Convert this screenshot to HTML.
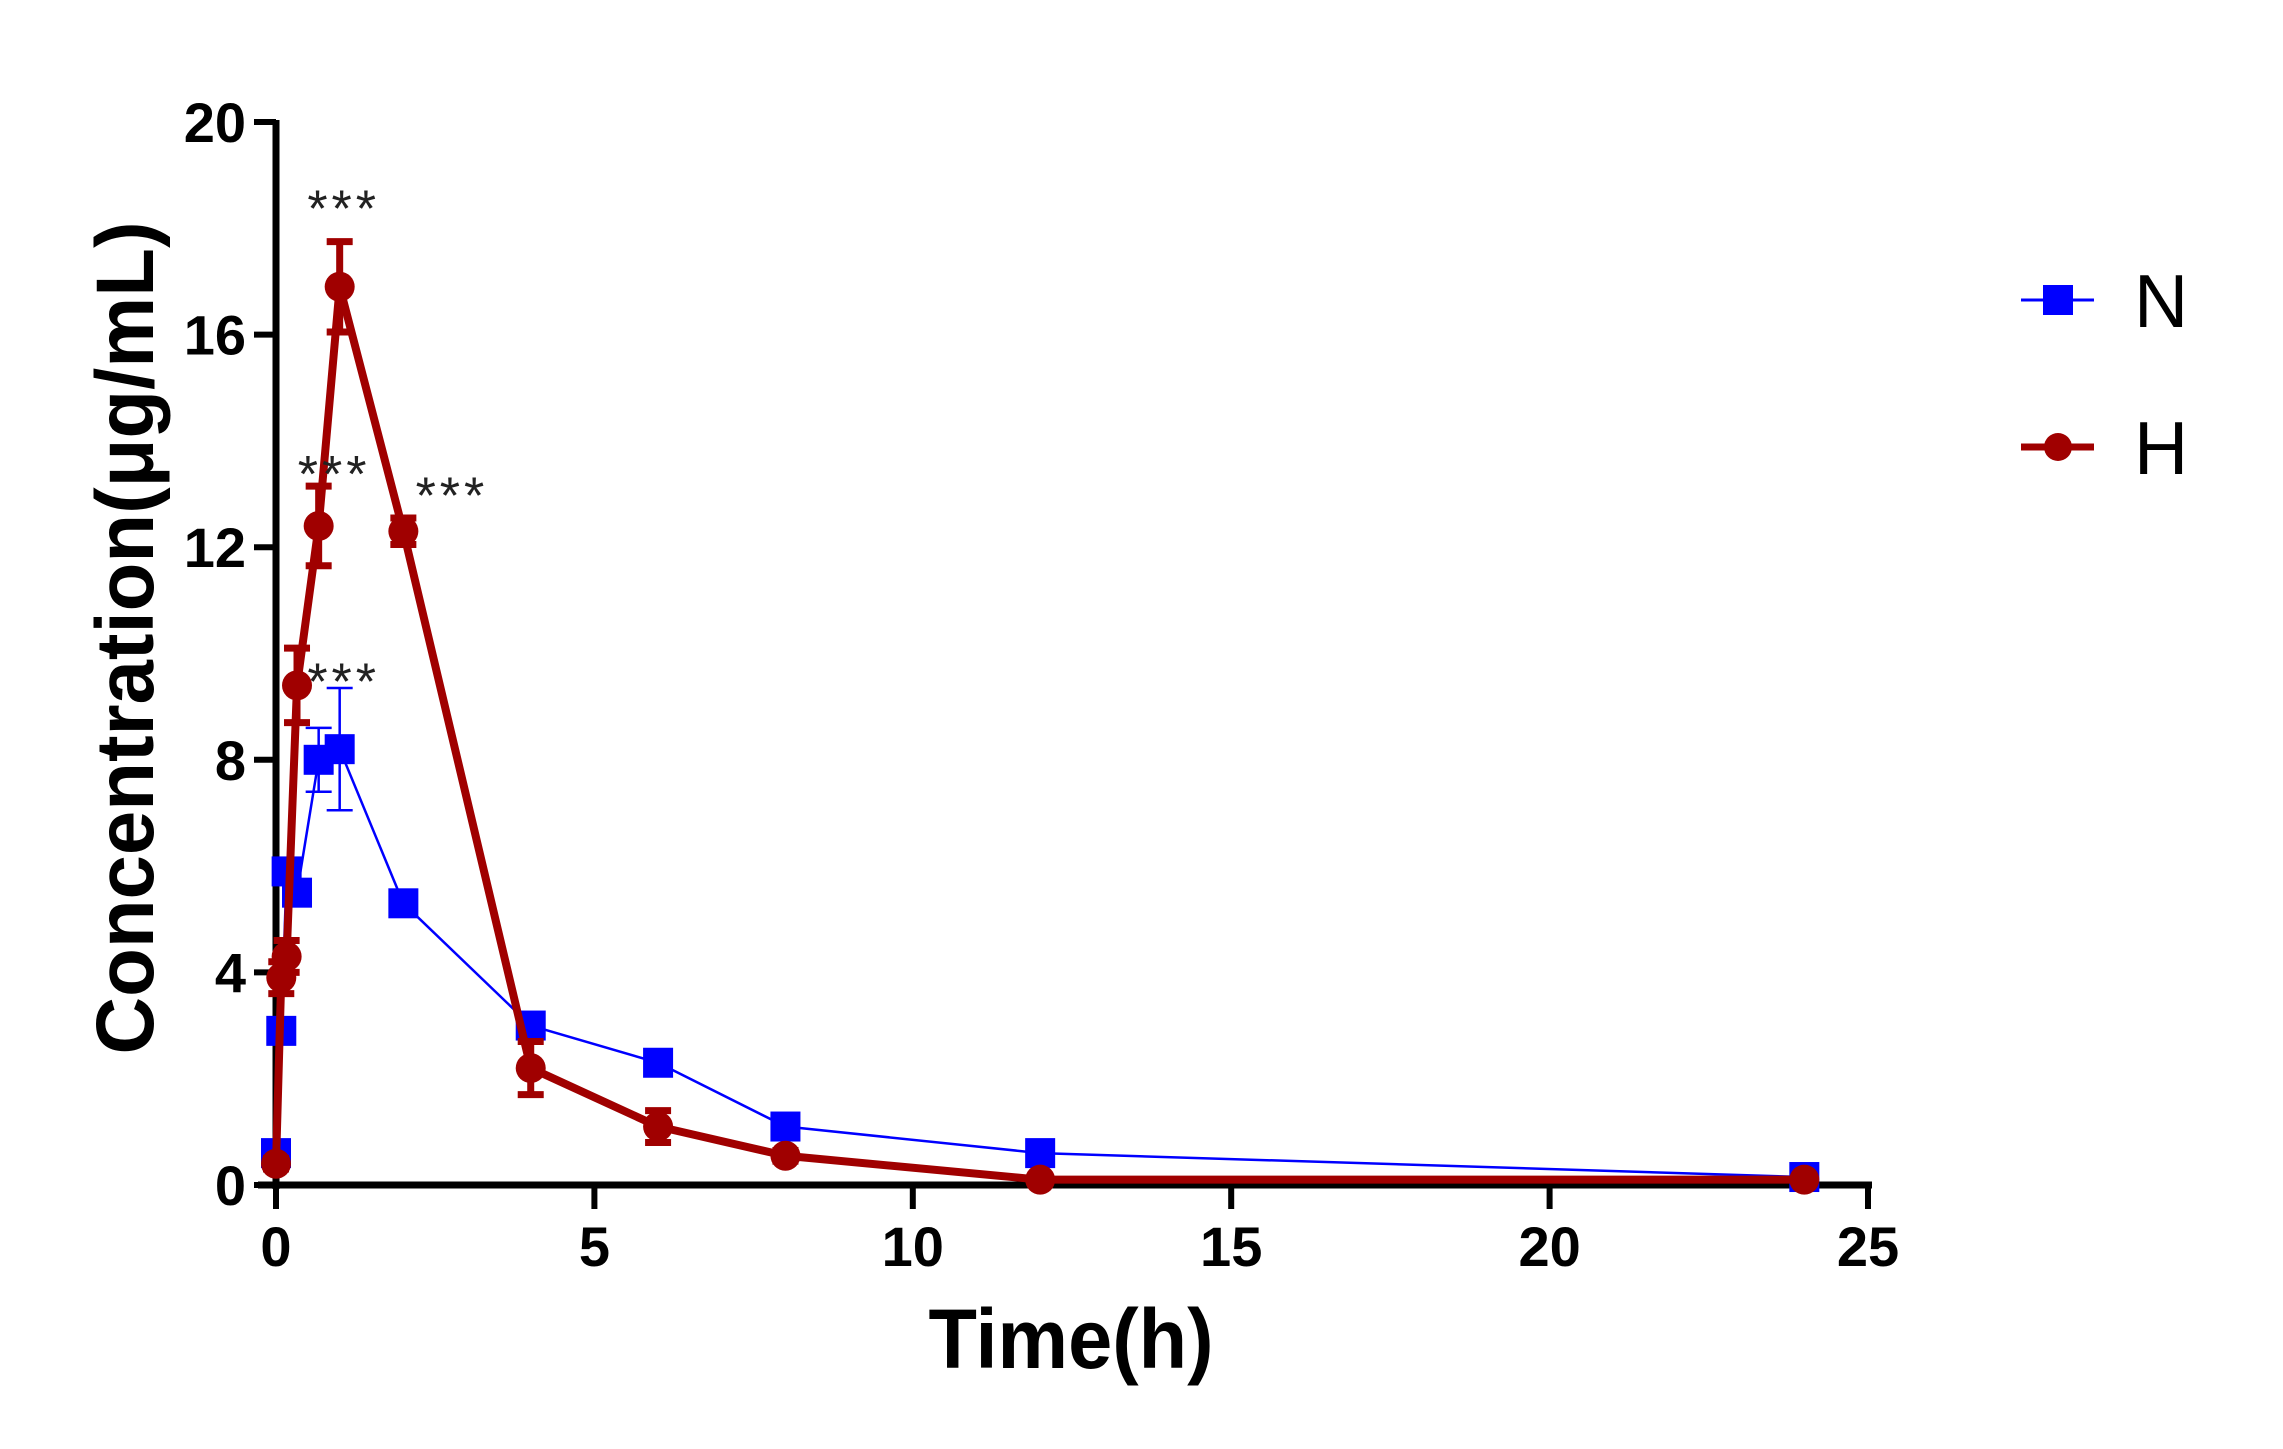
<!DOCTYPE html>
<html><head><meta charset="utf-8">
<style>html,body{margin:0;padding:0;background:#fff}svg{display:block}</style>
</head><body>
<svg id="chart" width="2283" height="1449" viewBox="0 0 2283 1449" xmlns="http://www.w3.org/2000/svg" font-family="Liberation Sans, sans-serif">
<g id="plot"></g>
</svg>
<script>
const times = [0, 0.083, 0.167, 0.33, 0.67, 1, 2, 4, 6, 8, 12, 24];
const nValues = [0.6, 2.9, 5.9, 5.5, 8.0, 8.2, 5.3, 3.0, 2.3, 1.1, 0.6, 0.15];
const nErrors = [0.1, 0.1, 0.2, 0.2, 0.6, 1.15, 0.2, 0.15, 0.1, 0.1, 0.1, 0.05];
const hValues = [0.4, 3.9, 4.3, 9.4, 12.4, 16.9, 12.3, 2.2, 1.1, 0.55, 0.1, 0.1];
const hErrors = [0.1, 0.3, 0.3, 0.7, 0.75, 0.85, 0.25, 0.5, 0.3, 0.1, 0.05, 0.05];
const xTicks = [0, 5, 10, 15, 20, 25];
const yTicks = [0, 4, 8, 12, 16, 20];
const starTimes = [1, 0.85, 2.7, 1];
const starValues = [18.6, 13.6, 13.2, 9.7];

const NS = 'http://www.w3.org/2000/svg';
const X0 = 276, X1 = 1868, Y0 = 1185, Y1 = 122;
const xs = t => X0 + (t / 25) * (X1 - X0);
const ys = v => Y0 - (v / 20) * (Y0 - Y1);
const plot = document.getElementById('plot');
function mk(tag, attrs, parent) {
  const e = document.createElementNS(NS, tag);
  for (const k in attrs) e.setAttribute(k, attrs[k]);
  (parent || plot).appendChild(e);
  return e;
}

let e = mk('line', {x1: X0, y1: Y1 - 2, x2: X0, y2: Y0 + 4, stroke: '#000', 'stroke-width': 7});


e = mk('line', {x1: X0 - 18, y1: Y0, x2: X1 + 4, y2: Y0, stroke: '#000', 'stroke-width': 7});



yTicks.forEach(v => {
  let t = mk('line', {x1: X0 - 22, y1: ys(v), x2: X0, y2: ys(v), stroke: '#000', 'stroke-width': 6});
  
  
  let l = mk('text', {x: 246, y: ys(v) + 20, 'text-anchor': 'end', 'font-size': 56, 'font-weight': 'bold'});
  l.textContent = v;
  
  
});
xTicks.forEach(v => {
  let t = mk('line', {x1: xs(v), y1: Y0, x2: xs(v), y2: Y0 + 24, stroke: '#000', 'stroke-width': 6});
  
  
  let l = mk('text', {x: xs(v), y: 1266, 'text-anchor': 'middle', 'font-size': 56, 'font-weight': 'bold'});
  l.textContent = v;
  
  
});

e = mk('text', {x: 1071, y: 1368, 'text-anchor': 'middle', 'font-size': 84, 'font-weight': 'bold', textLength: 285, lengthAdjust: 'spacingAndGlyphs'});
e.textContent = 'Time(h)';


e = mk('text', {x: 0, y: 0, 'text-anchor': 'middle', 'font-size': 82, 'font-weight': 'bold', textLength: 833, lengthAdjust: 'spacingAndGlyphs', transform: 'translate(153,638) rotate(-90)'});
e.textContent = 'Concentration(μg/mL)';



function series(vals, errs, color, lw, ew, marker, name) {
  const g = mk('g', {});
  
  
  times.forEach((t, i) => {
    const x = xs(t), yt = ys(vals[i] + errs[i]), yb = ys(Math.max(0, vals[i] - errs[i]));
    const eb = mk('path', {d: `M${x},${yt}V${yb}M${x-13},${yt}H${x+13}M${x-13},${yb}H${x+13}`, stroke: color, 'stroke-width': ew, fill: 'none'}, g);
    
    
  });
  const p = mk('polyline', {points: times.map((t, i) => xs(t) + ',' + ys(vals[i])).join(' '), fill: 'none', stroke: color, 'stroke-width': lw, 'stroke-linejoin': 'round'}, g);
  
  
  times.forEach((t, i) => {
    let m;
    if (marker === 'square') m = mk('rect', {x: xs(t) - 15, y: ys(vals[i]) - 15, width: 30, height: 30, fill: color}, g);
    else m = mk('circle', {cx: xs(t), cy: ys(vals[i]), r: 15, fill: color}, g);
    
    
  });
}
series(nValues, nErrors, '#0000ff', 2.5, 2.5, 'square', 'n');
series(hValues, hErrors, '#a00000', 8, 7, 'circle', 'h');

starTimes.forEach((t, i) => {
  const s = mk('text', {x: xs(t) + 4, y: ys(starValues[i]) + 30, 'text-anchor': 'middle', 'font-size': 52, 'letter-spacing': 4, fill: '#222'});
  s.textContent = '***';
  
  
});

const lg = mk('g', {});


e = mk('line', {x1: 2021, y1: 300, x2: 2094, y2: 300, stroke: '#0000ff', 'stroke-width': 3}, lg);


e = mk('rect', {x: 2043, y: 285, width: 30, height: 30, fill: '#0000ff'}, lg);


e = mk('text', {x: 2134, y: 327, 'font-size': 75}, lg);
e.textContent = 'N';


e = mk('line', {x1: 2021, y1: 447, x2: 2094, y2: 447, stroke: '#a00000', 'stroke-width': 7}, lg);


e = mk('circle', {cx: 2058, cy: 447, r: 14, fill: '#a00000'}, lg);


e = mk('text', {x: 2134, y: 474, 'font-size': 75}, lg);
e.textContent = 'H';


</script>
</body></html>
